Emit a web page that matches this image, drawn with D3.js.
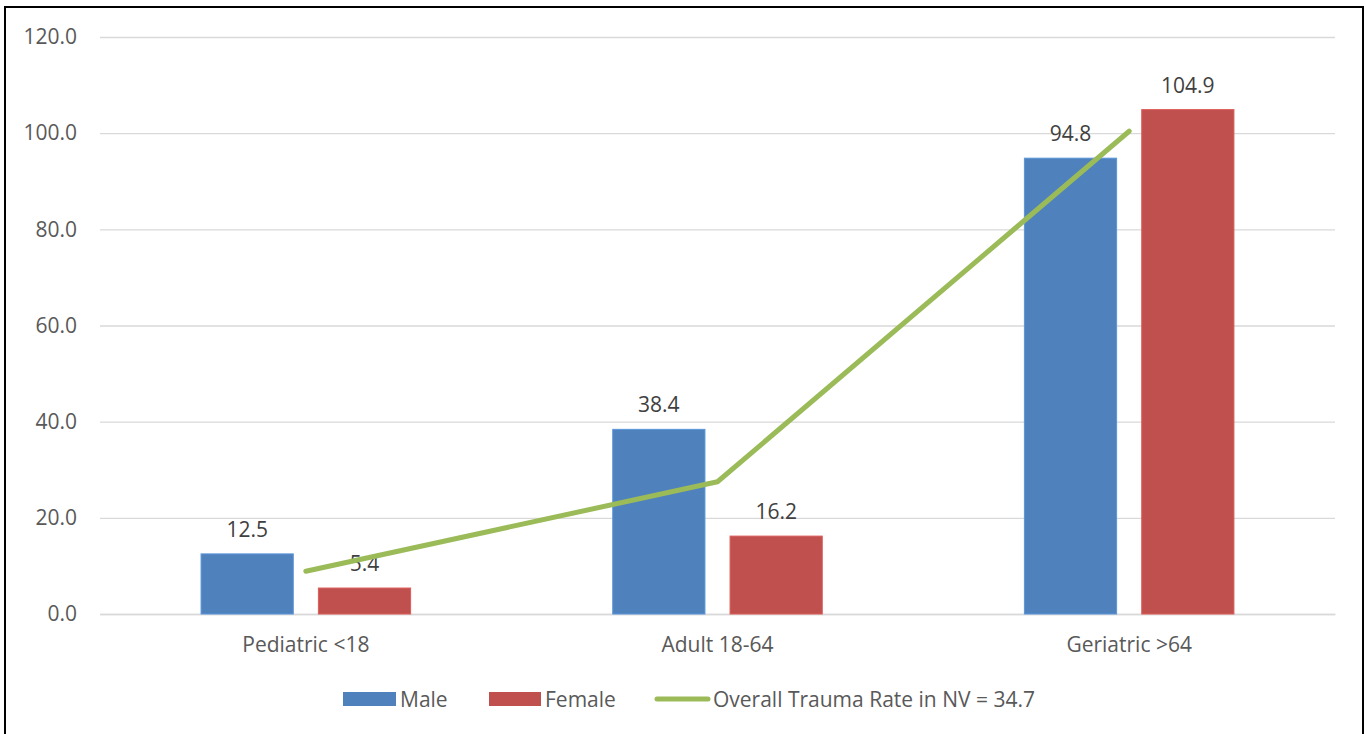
<!DOCTYPE html>
<html><head><meta charset="utf-8">
<script src="https://cdn.jsdelivr.net/npm/d3@7"></script>
<style>
html,body{margin:0;padding:0;background:#fff;}
svg{display:block;font-family:"Open Sans","Liberation Sans",sans-serif;}
</style></head>
<body><svg id="c" width="1367" height="734"></svg>
<script>
const categories = ["Pediatric <18", "Adult 18-64", "Geriatric >64"];
const maleValues = [12.5, 38.4, 94.8];
const femaleValues = [5.4, 16.2, 104.9];
const overallValues = [8.9, 27.5, 100.4];
const yTicks = [0, 20, 40, 60, 80, 100, 120];
const seriesNames = ["Male", "Female", "Overall Trauma Rate in NV = 34.7"];
const colors = {male:"#4F81BD", female:"#C0504D", line:"#9BBB59"};
const FS = 21;

const svg = d3.select("#c");
svg.append("path").attr("d","M5,740 V7 H1363 V740").attr("fill","none").attr("stroke","#000").attr("stroke-width",2);

const x0 = 100, x1 = 1335, yTop = 37, yBot = 614;
const x = d3.scaleBand().domain(categories).range([x0, x1]).paddingInner(0).paddingOuter(0);
const y = d3.scaleLinear().domain([0,120]).range([yBot, yTop]);

const yAxis = d3.axisLeft(y).tickValues(yTicks).tickSize(-(x1-x0)).tickFormat(d3.format(".1f")).tickPadding(23);
const ga = svg.append("g").attr("transform",`translate(${x0},0)`).call(yAxis);
ga.attr("font-family",null).attr("font-size",null);
ga.select(".domain").remove();
ga.selectAll(".tick line").attr("stroke","#D9D9D9").attr("stroke-width",1.3);
ga.selectAll(".tick text").attr("fill","#595959").attr("font-size",FS);

const xa = d3.axisBottom(x).tickSize(0).tickPadding(23);
const gx = svg.append("g").attr("transform",`translate(0,${yBot})`).call(xa);
gx.attr("font-family",null).attr("font-size",null);
gx.select(".domain").attr("stroke","#D9D9D9").attr("stroke-width",1.3);
gx.selectAll(".tick text").attr("fill","#595959").attr("font-size",FS);

const bw = x.bandwidth()*0.224, gap = x.bandwidth()*0.061;
function drawBars(vals, cls, color, offset){
  svg.selectAll("rect."+cls).data(vals).join("rect").attr("class",cls)
    .attr("x",(d,i)=>x(categories[i])+x.bandwidth()/2+offset)
    .attr("y",d=>y(d)).attr("width",bw).attr("height",d=>yBot-y(d))
    .attr("fill",color).attr("stroke",d3.color(color).brighter(0.4)).attr("stroke-width",1);
  svg.selectAll("text."+cls).data(vals).join("text").attr("class",cls)
    .attr("x",(d,i)=>x(categories[i])+x.bandwidth()/2+offset+bw/2)
    .attr("y",d=>y(d)-17).attr("text-anchor","middle")
    .attr("fill","#404040").attr("font-size",FS).text(d=>d.toFixed(1));
}
drawBars(maleValues,"m",colors.male,-gap/2-bw);
drawBars(femaleValues,"f",colors.female,gap/2);

const line = d3.line().x((d,i)=>x(categories[i])+x.bandwidth()/2).y(d=>y(d));
svg.append("path").datum(overallValues).attr("d",line).attr("fill","none")
  .attr("stroke",colors.line).attr("stroke-width",5).attr("stroke-linecap","round").attr("stroke-linejoin","round");

const ly = 699;
const lg = svg.append("g");
lg.append("rect").attr("x",343).attr("y",ly-7).attr("width",53).attr("height",14).attr("fill",colors.male);
lg.append("text").attr("x",400).attr("y",ly).attr("dy","0.36em").attr("fill","#595959").attr("font-size",FS).text(seriesNames[0]);
lg.append("rect").attr("x",489).attr("y",ly-7).attr("width",52).attr("height",14).attr("fill",colors.female);
lg.append("text").attr("x",545).attr("y",ly).attr("dy","0.36em").attr("fill","#595959").attr("font-size",FS).text(seriesNames[1]);
lg.append("line").attr("x1",657).attr("x2",708).attr("y1",ly).attr("y2",ly).attr("stroke",colors.line).attr("stroke-width",5).attr("stroke-linecap","round");
lg.append("text").attr("x",713).attr("y",ly).attr("dy","0.36em").attr("fill","#595959").attr("font-size",FS).text(seriesNames[2]);
</script></body></html>
